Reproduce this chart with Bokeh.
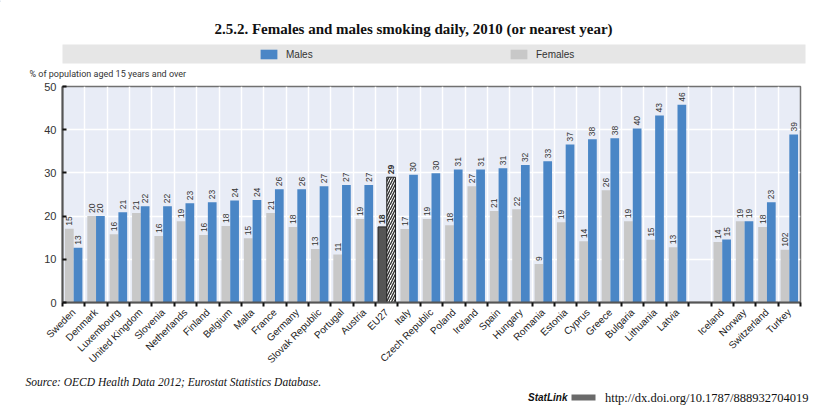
import math
from bokeh.plotting import figure
from bokeh.layouts import column
from bokeh.models import (ColumnDataSource, FixedTicker, Label, Legend, LegendItem,
                          BoxAnnotation, Range1d)
from bokeh.core.properties import value
from bokeh.embed import file_html
from bokeh.resources import INLINE

# ---------------- data ----------------
countries_eu = ["Sweden", "Denmark", "Luxembourg", "United Kingdom", "Slovenia", "Netherlands",
                "Finland", "Belgium", "Malta", "France", "Germany", "Slovak Republic", "Portugal",
                "Austria", "EU27", "Italy", "Czech Republic", "Poland", "Ireland", "Spain",
                "Hungary", "Romania", "Estonia", "Cyprus", "Greece", "Bulgaria", "Lithuania", "Latvia"]
males_eu = [12.7, 20.0, 20.9, 22.3, 22.3, 23.0, 23.2, 23.6, 23.7, 26.2, 26.2, 26.9, 27.2, 27.2,
            29.0, 29.6, 29.9, 30.8, 30.8, 31.1, 31.8, 32.7, 36.6, 37.8, 38.0, 40.3, 43.3, 45.8]
females_eu = [17.1, 20.0, 15.8, 20.7, 15.4, 18.8, 15.6, 17.7, 14.9, 20.7, 17.5, 12.4, 11.1, 19.3,
              17.5, 17.0, 19.3, 17.9, 26.9, 21.2, 21.6, 8.9, 18.6, 14.2, 26.0, 18.8, 14.5, 12.8]
males_eu_labels = ["13", "20", "21", "22", "22", "23", "23", "24", "24", "26", "26", "27", "27", "27",
                   "29", "30", "30", "31", "31", "31", "32", "33", "37", "38", "38", "40", "43", "46"]
females_eu_labels = ["15", "20", "16", "21", "16", "19", "16", "18", "15", "21", "18", "13", "11", "19",
                     "18", "17", "19", "18", "27", "21", "22", "9", "19", "14", "26", "19", "15", "13"]

countries_other = ["Iceland", "Norway", "Switzerland", "Turkey"]
males_other = [14.6, 18.8, 23.2, 38.9]
females_other = [14.0, 18.8, 17.5, 12.2]
males_other_labels = ["15", "19", "23", "39"]
females_other_labels = ["14", "19", "18", "102"]

y_ticks = [0, 10, 20, 30, 40, 50]
highlight = "EU27"
series_names = ["Males", "Females"]

title_text = "2.5.2.  Females and males smoking daily, 2010 (or nearest year)"
ylabel_text = "% of population aged 15 years and over"
source_text = "Source:  OECD Health Data 2012; Eurostat Statistics Database."
statlink_text = "StatLink"
url_text = "http://dx.doi.org/10.1787/888932704019"

# ---------------- styling ----------------
BLUE = "#4a86c6"
GREY = "#c8c8c8"
BG = "#e8ecf6"
SANS = "Liberation Sans"
SERIF = "Liberation Serif"
TXT = "#333333"
W = 829
H_HEAD = 80
H_MAIN = 292
H_FOOT = 35


def blank_fig(h):
    f = figure(width=W, height=h, output_backend="svg", toolbar_location=None,
               x_axis_type=None, y_axis_type=None,
               x_range=Range1d(0, W), y_range=Range1d(h, 0),
               min_border=0, min_border_left=0, min_border_right=0,
               min_border_top=0, min_border_bottom=0)
    f.frame_align = False
    f.outline_line_color = None
    f.background_fill_color = "white"
    f.grid.visible = False
    return f


# ---------------- header ----------------
head = blank_fig(H_HEAD)
head.add_layout(Label(x=415, y=28, text=title_text, text_align="center", text_baseline="middle",
                      text_font=SERIF, text_font_size="15px", text_font_style="bold",
                      text_color="#111111"))
head.add_layout(BoxAnnotation(left=62, right=805, top=44, bottom=63,
                              fill_color="#e6e6e6", fill_alpha=1, line_color=None))
# legend swatch renderers (kept outside the visible range)
dm = head.vbar(x=[-50], top=[1], width=1, fill_color=BLUE, line_color=None)
df = head.vbar(x=[-50], top=[1], width=1, fill_color=GREY, line_color=None)
legend = Legend(items=[LegendItem(label=series_names[0], renderers=[dm]),
                       LegendItem(label=series_names[1], renderers=[df])],
                location=(258, H_HEAD - 60), orientation="horizontal",
                padding=0, margin=0, spacing=0, glyph_width=21, glyph_height=12,
                label_standoff=7, label_width=222, label_height=12,
                background_fill_alpha=0, border_line_color=None,
                label_text_font=SANS, label_text_font_size="10px", label_text_color=TXT)
head.add_layout(legend)
head.add_layout(Label(x=29, y=73, text=ylabel_text, text_align="left", text_baseline="middle",
                      text_font="Roboto", text_font_size="9px", text_color=TXT))

# ---------------- main chart ----------------
countries = countries_eu + countries_other
males = males_eu + males_other
females = females_eu + females_other
m_labels = males_eu_labels + males_other_labels
f_labels = females_eu_labels + females_other_labels
xpos = list(range(len(countries_eu))) + [len(countries_eu) + 1 + i for i in range(len(countries_other))]
nslots = len(countries_eu) + 1 + len(countries_other)

bw = 0.39
is_hl = [c == highlight for c in countries]

src_f = ColumnDataSource(dict(x=[x - bw / 2 for x, h in zip(xpos, is_hl) if not h],
                              top=[v for v, h in zip(females, is_hl) if not h]))
src_m = ColumnDataSource(dict(x=[x + bw / 2 for x, h in zip(xpos, is_hl) if not h],
                              top=[v for v, h in zip(males, is_hl) if not h]))
src_fh = ColumnDataSource(dict(x=[x - bw / 2 for x, h in zip(xpos, is_hl) if h],
                               top=[v for v, h in zip(females, is_hl) if h]))
src_mh = ColumnDataSource(dict(x=[x + bw / 2 for x, h in zip(xpos, is_hl) if h],
                               top=[v for v, h in zip(males, is_hl) if h]))

p = figure(width=W, height=H_MAIN, output_backend="svg", toolbar_location=None,
           x_range=Range1d(-0.5, nslots - 0.5), y_range=Range1d(0, 50),
           min_border_left=62, min_border_right=29, min_border_top=6, min_border_bottom=70,
           background_fill_color=BG, border_fill_color="white")
p.frame_align = False

p.vbar(x="x", top="top", width=bw, source=src_f, fill_color=GREY, line_color=None)
p.vbar(x="x", top="top", width=bw, source=src_m, fill_color=BLUE, line_color=None)
p.vbar(x="x", top="top", width=bw, source=src_fh, fill_color="#555555", line_color="#222222", line_width=1)
p.vbar(x="x", top="top", width=bw, source=src_mh, fill_color="white", line_color="#222222", line_width=1,
       hatch_pattern="/", hatch_color="#333333", hatch_scale=5, hatch_weight=1.4)

lab = ColumnDataSource(dict(
    x=[x - bw / 2 for x in xpos] + [x + bw / 2 for x in xpos],
    y=females + males,
    t=f_labels + m_labels,
    st=["bold" if h else "normal" for h in is_hl] * 2,
))
p.text(x="x", y="y", text="t", source=lab, angle=math.pi / 2, text_align="left",
       text_baseline="middle", y_offset=-3, text_font=value(SANS), text_font_size="8.5px",
       text_color=TXT, text_font_style="st")

centers = xpos
bounds = [i - 0.5 for i in range(nslots + 1)]
ticker = FixedTicker(ticks=centers, minor_ticks=bounds)
p.xaxis.ticker = ticker
p.xgrid.ticker = ticker
p.xaxis.major_label_overrides = {x: c for x, c in zip(xpos, countries)}
p.xaxis.major_label_orientation = math.pi / 4
p.xaxis.major_tick_in = 0
p.xaxis.major_tick_out = 0
p.xaxis.minor_tick_in = 0
p.xaxis.minor_tick_out = 4
p.xaxis.minor_tick_line_color = "#111111"
p.xaxis.minor_tick_line_width = 2
p.xaxis.axis_line_color = "#555555"
p.xaxis.axis_line_width = 2
p.xaxis.major_label_text_font = SANS
p.xaxis.major_label_text_font_size = "10px"
p.xaxis.major_label_text_color = "#222222"
p.xaxis.major_label_standoff = 4
p.xgrid.grid_line_color = None
p.xgrid.minor_grid_line_color = "white"
p.xgrid.minor_grid_line_width = 1.5

p.yaxis.ticker = FixedTicker(ticks=y_ticks)
p.yaxis.major_tick_in = 4
p.yaxis.major_tick_out = 0
p.yaxis.major_tick_line_width = 2
p.yaxis.major_tick_line_color = "#111111"
p.yaxis.minor_tick_line_color = None
p.yaxis.axis_line_color = "#555555"
p.yaxis.axis_line_width = 2
p.yaxis.major_label_text_font = SANS
p.yaxis.major_label_text_font_size = "11px"
p.yaxis.major_label_text_color = TXT
p.yaxis.major_label_standoff = 6
p.ygrid.grid_line_color = "white"
p.ygrid.grid_line_width = 1.5

p.outline_line_color = "#707070"
p.outline_line_width = 1.5

# ---------------- footer ----------------
foot = blank_fig(H_FOOT)
foot.add_layout(Label(x=25, y=9, text=source_text, text_align="left", text_baseline="middle",
                      text_font=SERIF, text_font_size="11.5px", text_font_style="italic",
                      text_color="#111111"))
foot.add_layout(Label(x=567, y=25, text=statlink_text, text_align="right", text_baseline="middle",
                      text_font=SANS, text_font_size="10px", text_font_style="bold italic",
                      text_color="#111111"))
foot.add_layout(BoxAnnotation(left=571, right=595, top=22, bottom=28,
                              fill_color="#6a6a6a", fill_alpha=1, line_color=None))
foot.add_layout(Label(x=808, y=25, text=url_text, text_align="right", text_baseline="middle",
                      text_font=SERIF, text_font_size="12.5px", text_color="#111111"))

layout = column(head, p, foot, spacing=0)
open("out.html", "w").write(file_html(layout, INLINE))
